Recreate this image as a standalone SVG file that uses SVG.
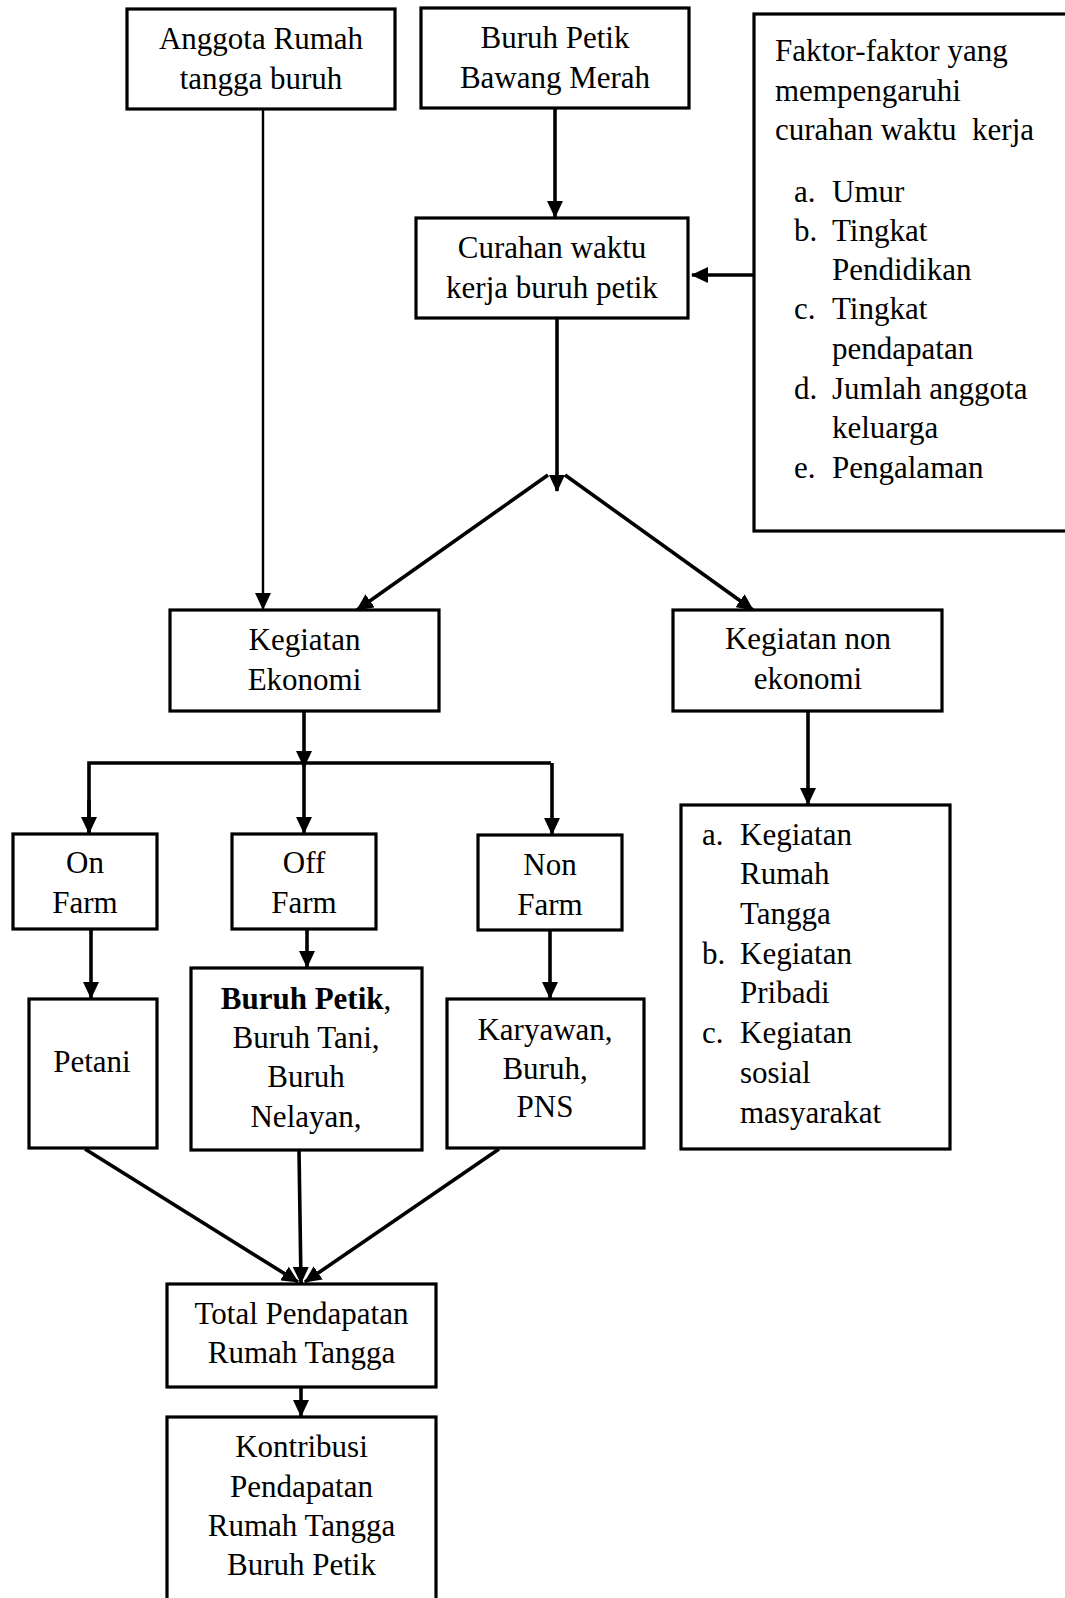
<svg xmlns="http://www.w3.org/2000/svg" width="1065" height="1598" viewBox="0 0 1065 1598">
<style>
  .box { fill: #fff; stroke: #000; stroke-width: 3.2; }
  .t { font-family: "Liberation Serif", "Times New Roman", serif; font-size: 31px; fill: #000; }
  .c { text-anchor: middle; }
  .pre { white-space: pre; }
  .ln { stroke: #000; stroke-width: 3.6; fill: none; }
  .thin { stroke-width: 2.4; }
</style>
<defs>
  <marker id="ah" markerUnits="userSpaceOnUse" markerWidth="17" markerHeight="16" refX="16" refY="8" orient="auto">
    <path d="M0,0 L17,8 L0,16 z" fill="#000"/>
  </marker>
</defs>
<rect x="0" y="0" width="1065" height="1598" fill="#fff"/>

<g id="connectors">
  <line class="ln thin" x1="263" y1="109" x2="263" y2="609" marker-end="url(#ah)"/>
  <line class="ln" x1="555" y1="108" x2="555" y2="217" marker-end="url(#ah)"/>
  <line class="ln" x1="754" y1="275" x2="692" y2="275" marker-end="url(#ah)"/>
  <line class="ln" x1="557" y1="318" x2="557" y2="491" marker-end="url(#ah)"/>
  <line class="ln" x1="548" y1="475" x2="357" y2="610" marker-end="url(#ah)"/>
  <line class="ln" x1="565" y1="475" x2="753" y2="610" marker-end="url(#ah)"/>
  <line class="ln" x1="304" y1="711" x2="304" y2="767" marker-end="url(#ah)"/>
  <polyline class="ln" points="89,833 89,763 551,763"/>
  <line class="ln" x1="89" y1="800" x2="89" y2="833" marker-end="url(#ah)"/>
  <line class="ln" x1="304" y1="763" x2="304" y2="833" marker-end="url(#ah)"/>
  <line class="ln" x1="552" y1="763" x2="552" y2="834" marker-end="url(#ah)"/>
  <line class="ln" x1="808" y1="711" x2="808" y2="804" marker-end="url(#ah)"/>
  <line class="ln" x1="91" y1="929" x2="91" y2="998" marker-end="url(#ah)"/>
  <line class="ln" x1="307" y1="927" x2="307" y2="967" marker-end="url(#ah)"/>
  <line class="ln" x1="550" y1="929" x2="550" y2="998" marker-end="url(#ah)"/>
  <line class="ln" x1="85" y1="1149" x2="298" y2="1282" marker-end="url(#ah)"/>
  <line class="ln" x1="299" y1="1150" x2="301" y2="1283" marker-end="url(#ah)"/>
  <line class="ln" x1="499" y1="1149" x2="305" y2="1282" marker-end="url(#ah)"/>
  <line class="ln" x1="301" y1="1387" x2="301" y2="1416" marker-end="url(#ah)"/>
</g>

<g id="anggota">
  <rect class="box" x="127" y="9" width="268" height="100"/>
  <text class="t c" x="261" y="49">Anggota Rumah</text>
  <text class="t c" x="261" y="89">tangga buruh</text>
</g>

<g id="buruh-petik">
  <rect class="box" x="421" y="8" width="268" height="100"/>
  <text class="t c" x="555" y="48">Buruh Petik</text>
  <text class="t c" x="555" y="88">Bawang Merah</text>
</g>

<g id="faktor">
  <rect class="box" x="754" y="14" width="320" height="517"/>
  <text class="t" x="775" y="61">Faktor-faktor yang</text>
  <text class="t" x="775" y="101">mempengaruhi</text>
  <text class="t pre" x="775" y="140">curahan waktu  kerja</text>
  <text class="t" x="794" y="202">a.</text><text class="t" x="832" y="202">Umur</text>
  <text class="t" x="794" y="241">b.</text><text class="t" x="832" y="241">Tingkat</text>
  <text class="t" x="832" y="280">Pendidikan</text>
  <text class="t" x="794" y="319">c.</text><text class="t" x="832" y="319">Tingkat</text>
  <text class="t" x="832" y="359">pendapatan</text>
  <text class="t" x="794" y="399">d.</text><text class="t" x="832" y="399">Jumlah anggota</text>
  <text class="t" x="832" y="438">keluarga</text>
  <text class="t" x="794" y="478">e.</text><text class="t" x="832" y="478">Pengalaman</text>
</g>

<g id="curahan">
  <rect class="box" x="416" y="218" width="272" height="100"/>
  <text class="t c" x="552" y="258">Curahan waktu</text>
  <text class="t c" x="552" y="298">kerja buruh petik</text>
</g>

<g id="kegiatan-ekonomi">
  <rect class="box" x="170" y="610" width="269" height="101"/>
  <text class="t c" x="304.5" y="650">Kegiatan</text>
  <text class="t c" x="304.5" y="690">Ekonomi</text>
</g>

<g id="kegiatan-non-ekonomi">
  <rect class="box" x="673" y="610" width="269" height="101"/>
  <text class="t c" x="808" y="649">Kegiatan non</text>
  <text class="t c" x="808" y="689">ekonomi</text>
</g>

<g id="on-farm">
  <rect class="box" x="13" y="834" width="144" height="95"/>
  <text class="t c" x="85" y="873">On</text>
  <text class="t c" x="85" y="913">Farm</text>
</g>

<g id="off-farm">
  <rect class="box" x="232" y="834" width="144" height="95"/>
  <text class="t c" x="304" y="873">Off</text>
  <text class="t c" x="304" y="913">Farm</text>
</g>

<g id="non-farm">
  <rect class="box" x="478" y="835" width="144" height="95"/>
  <text class="t c" x="550" y="875">Non</text>
  <text class="t c" x="550" y="915">Farm</text>
</g>

<g id="non-ekonomi-list">
  <rect class="box" x="681" y="805" width="269" height="344"/>
  <text class="t" x="702" y="845">a.</text><text class="t" x="740" y="845">Kegiatan</text>
  <text class="t" x="740" y="884">Rumah</text>
  <text class="t" x="740" y="924">Tangga</text>
  <text class="t" x="702" y="964">b.</text><text class="t" x="740" y="964">Kegiatan</text>
  <text class="t" x="740" y="1003">Pribadi</text>
  <text class="t" x="702" y="1043">c.</text><text class="t" x="740" y="1043">Kegiatan</text>
  <text class="t" x="740" y="1083">sosial</text>
  <text class="t" x="740" y="1123">masyarakat</text>
</g>

<g id="petani">
  <rect class="box" x="29" y="999" width="128" height="149"/>
  <text class="t c" x="92" y="1072">Petani</text>
</g>

<g id="buruh-list">
  <rect class="box" x="191" y="968" width="231" height="182"/>
  <text class="t c" x="306" y="1009"><tspan font-weight="bold">Buruh Petik</tspan>,</text>
  <text class="t c" x="306" y="1048">Buruh Tani,</text>
  <text class="t c" x="306" y="1087">Buruh</text>
  <text class="t c" x="306" y="1127">Nelayan,</text>
</g>

<g id="karyawan">
  <rect class="box" x="447" y="999" width="197" height="149"/>
  <text class="t c" x="545" y="1040">Karyawan,</text>
  <text class="t c" x="545" y="1079">Buruh,</text>
  <text class="t c" x="545" y="1117">PNS</text>
</g>

<g id="total">
  <rect class="box" x="167" y="1284" width="269" height="103"/>
  <text class="t c" x="301.5" y="1324">Total Pendapatan</text>
  <text class="t c" x="301.5" y="1363">Rumah Tangga</text>
</g>

<g id="kontribusi">
  <rect class="box" x="167" y="1417" width="269" height="200"/>
  <text class="t c" x="301.5" y="1457">Kontribusi</text>
  <text class="t c" x="301.5" y="1497">Pendapatan</text>
  <text class="t c" x="301.5" y="1536">Rumah Tangga</text>
  <text class="t c" x="301.5" y="1575">Buruh Petik</text>
</g>
</svg>
